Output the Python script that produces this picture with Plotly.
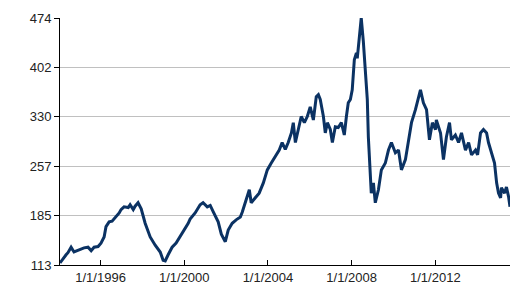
import pandas as pd
import plotly.graph_objects as go

# Decimal years and index values
years = [1994.06, 1994.21, 1994.35, 1994.44, 1994.59, 1994.73, 1994.97, 1995.21, 1995.40, 1995.55,
         1995.69, 1995.88, 1996.02, 1996.17, 1996.26, 1996.41, 1996.55, 1996.69, 1996.89, 1996.98,
         1997.12, 1997.32, 1997.41, 1997.56, 1997.65, 1997.79, 1997.94, 1998.13, 1998.37, 1998.61,
         1998.85, 1998.99, 1999.09, 1999.23, 1999.42, 1999.61, 1999.80, 2000.00, 2000.19, 2000.28,
         2000.52, 2000.76, 2000.90, 2001.10, 2001.24, 2001.38, 2001.62, 2001.77, 2001.96, 2002.10,
         2002.29, 2002.48, 2002.68, 2002.77, 2002.91, 2003.11, 2003.20, 2003.39, 2003.58, 2003.78,
         2003.97, 2004.16, 2004.35, 2004.54, 2004.68, 2004.83, 2004.97, 2005.12, 2005.21, 2005.31,
         2005.45, 2005.59, 2005.74, 2005.88, 2006.02, 2006.17, 2006.31, 2006.41, 2006.50, 2006.65,
         2006.74, 2006.84, 2006.98, 2007.08, 2007.22, 2007.36, 2007.51, 2007.65, 2007.75, 2007.84,
         2007.94, 2008.03, 2008.13, 2008.23, 2008.27, 2008.32, 2008.37, 2008.46, 2008.56, 2008.66,
         2008.75, 2008.80, 2008.90, 2008.94, 2009.04, 2009.13, 2009.28, 2009.42, 2009.61, 2009.76,
         2009.90, 2010.09, 2010.24, 2010.38, 2010.57, 2010.71, 2010.86, 2011.05, 2011.19, 2011.29,
         2011.43, 2011.58, 2011.72, 2011.86, 2012.01, 2012.05, 2012.25, 2012.39, 2012.53, 2012.68,
         2012.77, 2012.96, 2013.11, 2013.25, 2013.44, 2013.59, 2013.73, 2013.92, 2014.02, 2014.16,
         2014.30, 2014.45, 2014.54, 2014.69, 2014.83, 2014.93, 2015.02, 2015.12, 2015.16, 2015.31,
         2015.40, 2015.50, 2015.57]

values = [116, 123, 128, 131, 139, 132, 135, 138, 139, 134,
          139, 140, 145, 154, 169, 176, 177, 182, 189, 194,
          198, 197, 201, 194, 199, 204, 195, 174, 154, 142,
          132, 120, 119, 128, 139, 145, 154, 164, 174, 180,
          189, 201, 204, 198, 200, 191, 176, 158, 147, 164,
          174, 179, 183, 190, 204, 223, 204, 211, 218, 233,
          252, 262, 271, 281, 292, 282, 292, 306, 321, 292,
          311, 330, 321, 330, 344, 325, 359, 362, 355, 330,
          306, 321, 311, 292, 315, 314, 321, 303, 330, 350,
          355, 369, 413, 423, 415, 432, 453, 474, 440, 402,
          355, 300, 250, 218, 233, 204, 223, 252, 262, 281,
          292, 277, 281, 252, 267, 292, 321, 340, 359, 369,
          350, 340, 296, 321, 311, 325, 306, 267, 300, 321,
          296, 303, 292, 306, 281, 292, 274, 281, 274, 306,
          311, 306, 292, 277, 262, 233, 218, 211, 226, 218,
          227, 213, 198]

y_ticks = [113, 185, 257, 330, 402, 474]
x_tick_years = [1996, 2000, 2004, 2008, 2012]
x_tick_labels = ["1/1/1996", "1/1/2000", "1/1/2004", "1/1/2008", "1/1/2012"]


def to_date(y):
    base = pd.Timestamp(year=int(y), month=1, day=1)
    return base + pd.Timedelta(days=(y - int(y)) * 365.25)


dates = [to_date(y) for y in years]
tick_dates = [pd.Timestamp(year=y, month=1, day=1) for y in x_tick_years]

fig = go.Figure()
fig.add_trace(go.Scatter(
    x=dates, y=values, mode="lines",
    line=dict(color="#0b3263", width=3),
    hoverinfo="skip", showlegend=False,
))

font = dict(family="Liberation Sans, Arial, sans-serif", size=13, color="#222222")

fig.update_layout(
    width=525, height=300,
    margin=dict(l=60, r=15, t=18, b=35),
    paper_bgcolor="white", plot_bgcolor="white",
    font=font,
    xaxis=dict(
        type="date",
        range=[dates[0], dates[-1]],
        tickvals=tick_dates, ticktext=x_tick_labels,
        showgrid=False, zeroline=False,
        showline=True, linecolor="black", linewidth=1,
        ticks="inside", ticklen=5, tickcolor="black",
        tickfont=font,
    ),
    yaxis=dict(
        range=[113, 474],
        tickvals=y_ticks, ticktext=[str(v) for v in y_ticks],
        showgrid=True, gridcolor="#c0c0c0", gridwidth=1,
        zeroline=False,
        showline=True, linecolor="black", linewidth=1,
        ticks="outside", ticklen=5, tickcolor="black",
        tickfont=font,
    ),
)

fig.write_html("out.html")
